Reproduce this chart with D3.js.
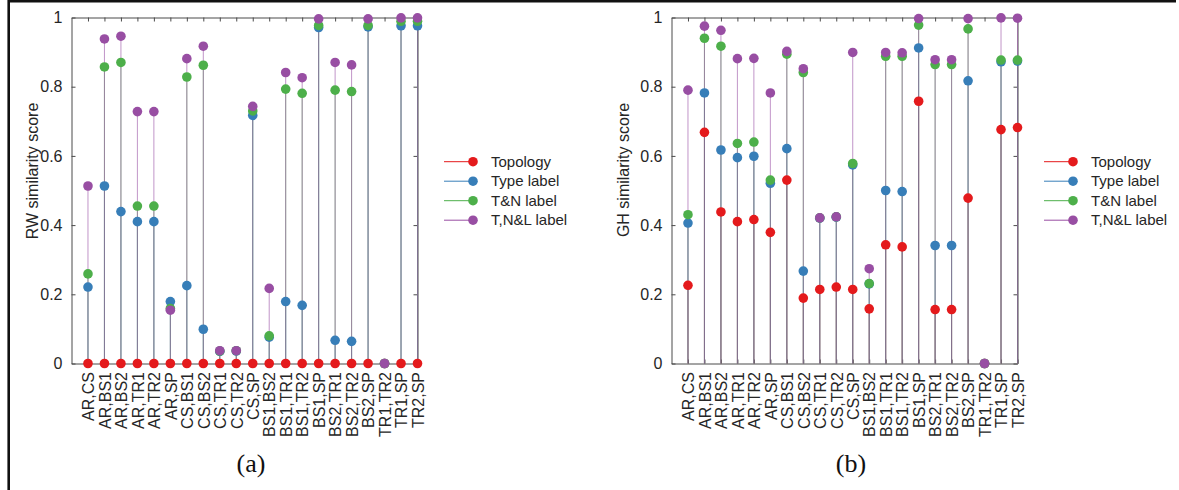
<!DOCTYPE html>
<html>
<head>
<meta charset="utf-8">
<script src="https://cdn.jsdelivr.net/npm/d3@7"></script>
<style>
  html, body { margin: 0; padding: 0; background: #fff; }
  svg { display: block; }
  text { font-family: "Liberation Sans", Arial, Helvetica, sans-serif; fill: #262626; }
  .caption { font-family: "Liberation Serif", "Times New Roman", serif; fill: #111; }
</style>
</head>
<body>
<svg id="chart" width="1179" height="490"></svg>
<script>
// Graph pairs compared in both panels
const categories = [
  "AR,CS", "AR,BS1", "AR,BS2", "AR,TR1", "AR,TR2", "AR,SP",
  "CS,BS1", "CS,BS2", "CS,TR1", "CS,TR2", "CS,SP",
  "BS1,BS2", "BS1,TR1", "BS1,TR2", "BS1,SP",
  "BS2,TR1", "BS2,TR2", "BS2,SP",
  "TR1,TR2", "TR1,SP", "TR2,SP"
];

const seriesNames = ["Topology", "Type label", "T&N label", "T,N&L label"];
const seriesColors = ["#e41a1c", "#377eb8", "#4daf4a", "#984ea3"];
const yTicks = [0, 0.2, 0.4, 0.6, 0.8, 1];
const yTickLabels = ["0", "0.2", "0.4", "0.6", "0.8", "1"];

// (a) random-walk kernel similarity
const rwTopology = [0, 0, 0, 0, 0, 0, 0, 0, 0, 0, 0, 0, 0, 0, 0, 0, 0, 0, 0, 0, 0];
const rwType = [0.221, 0.513, 0.439, 0.410, 0.410, 0.179, 0.225, 0.099, 0.035, 0.036, 0.717,
                0.076, 0.179, 0.168, 0.971, 0.067, 0.064, 0.973, 0, 0.976, 0.976];
const rwTN   = [0.259, 0.857, 0.870, 0.455, 0.455, 0.159, 0.828, 0.862, 0.036, 0.037, 0.730,
                0.080, 0.793, 0.781, 0.977, 0.790, 0.786, 0.977, 0, 0.989, 0.989];
const rwTNL  = [0.513, 0.938, 0.946, 0.728, 0.728, 0.154, 0.881, 0.917, 0.037, 0.037, 0.743,
                0.217, 0.841, 0.826, 0.996, 0.870, 0.863, 0.996, 0, 0.999, 0.999];

// (b) graph-hopper kernel similarity
const ghTopology = [0.226, 0.668, 0.438, 0.410, 0.416, 0.379, 0.530, 0.189, 0.214, 0.221, 0.214,
                    0.158, 0.343, 0.337, 0.758, 0.156, 0.156, 0.478, 0, 0.676, 0.682];
const ghType = [0.406, 0.782, 0.617, 0.595, 0.599, 0.521, 0.621, 0.267, 0.420, 0.423, 0.574,
                0.230, 0.500, 0.497, 0.912, 0.341, 0.341, 0.817, 0, 0.872, 0.874];
const ghTN   = [0.430, 0.940, 0.917, 0.636, 0.640, 0.530, 0.894, 0.841, 0.421, 0.424, 0.578,
                0.231, 0.888, 0.888, 0.978, 0.864, 0.864, 0.967, 0, 0.877, 0.877];
const ghTNL  = [0.790, 0.975, 0.963, 0.881, 0.882, 0.782, 0.902, 0.852, 0.421, 0.424, 0.899,
                0.274, 0.899, 0.898, 0.997, 0.878, 0.878, 0.997, 0, 0.999, 0.998];

const svg = d3.select("#chart");

// outer frame edges
svg.append("line").attr("x1", 8.7).attr("x2", 1176).attr("y1", 1.2).attr("y2", 1.2)
  .attr("stroke", "#111").attr("stroke-width", 2.6);
svg.append("line").attr("x1", 8.7).attr("x2", 8.7).attr("y1", 0).attr("y2", 490)
  .attr("stroke", "#111").attr("stroke-width", 2.6);

function drawPanel(cfg) {
  const g = svg.append("g");
  const x = d3.scaleLinear().domain([0, categories.length]).range([cfg.left, cfg.right]);
  const y = d3.scaleLinear().domain([0, 1]).range([cfg.bottom, cfg.top]);
  const idx = d3.range(1, categories.length + 1);

  const axisStyle = sel => {
    sel.selectAll(".domain").attr("stroke", "#4a4a4a").attr("stroke-width", 1);
    sel.selectAll(".tick line").attr("stroke", "#4a4a4a").attr("stroke-width", 1);
    sel.selectAll(".tick text").style("font-size", "16px").attr("fill", "#262626");
  };

  // left axis with labels
  g.append("g").attr("transform", `translate(${cfg.left},0)`)
    .call(d3.axisLeft(y).tickValues(yTicks).tickFormat((d, i) => yTickLabels[i])
      .tickSizeInner(-4).tickSizeOuter(0).tickPadding(9))
    .call(axisStyle);
  // right axis, ticks only
  g.append("g").attr("transform", `translate(${cfg.right},0)`)
    .call(d3.axisRight(y).tickValues(yTicks).tickFormat("")
      .tickSizeInner(-4).tickSizeOuter(0))
    .call(axisStyle);
  // top axis, ticks only
  g.append("g").attr("transform", `translate(0,${cfg.top})`)
    .call(d3.axisTop(x).tickValues(idx).tickFormat("")
      .tickSizeInner(-4).tickSizeOuter(0))
    .call(axisStyle);
  // bottom axis with rotated category labels
  const bottom = g.append("g").attr("transform", `translate(0,${cfg.bottom})`)
    .call(d3.axisBottom(x).tickValues(idx).tickFormat(d => categories[d - 1])
      .tickSizeInner(-4).tickSizeOuter(0))
    .call(axisStyle);
  bottom.selectAll(".tick text")
    .attr("transform", "rotate(-90)")
    .attr("text-anchor", "end")
    .attr("x", -8.5)
    .attr("y", 0)
    .attr("dy", "0.36em");

  // y-axis title
  g.append("text")
    .attr("transform", `translate(${cfg.titleX},${cfg.titleY}) rotate(-90)`)
    .attr("text-anchor", "middle")
    .attr("dominant-baseline", "central")
    .style("font-size", "16px")
    .text(cfg.title);

  // stems for each series, drawn beneath all markers
  cfg.series.forEach((vals, s) => {
    g.append("g").selectAll("line").data(vals).join("line")
      .attr("x1", (d, i) => x(i + 1)).attr("x2", (d, i) => x(i + 1))
      .attr("y1", y(0)).attr("y2", d => y(d))
      .attr("stroke", seriesColors[s]).attr("stroke-width", 1)
      .attr("stroke-opacity", 0.6);
  });
  // markers
  cfg.series.forEach((vals, s) => {
    g.append("g").selectAll("circle").data(vals).join("circle")
      .attr("cx", (d, i) => x(i + 1)).attr("cy", d => y(d))
      .attr("r", 4.8).attr("fill", seriesColors[s]);
  });

  // legend
  const lg = g.append("g").attr("transform", `translate(${cfg.legendX},${cfg.legendY})`);
  seriesNames.forEach((name, s) => {
    const row = lg.append("g").attr("transform", `translate(0,${s * 19.5})`);
    row.append("line").attr("x1", 0).attr("x2", 29).attr("y1", 0).attr("y2", 0)
      .attr("stroke", seriesColors[s]).attr("stroke-width", 1);
    row.append("circle").attr("cx", 29).attr("cy", 0).attr("r", 4.8).attr("fill", seriesColors[s]);
    row.append("text").attr("x", 47).attr("y", 0).attr("dy", "0.35em")
      .style("font-size", "15px").attr("fill", "#1a1a1a").text(name);
  });

  // panel caption
  g.append("text").attr("class", "caption")
    .attr("x", cfg.captionX).attr("y", 472)
    .attr("text-anchor", "middle")
    .style("font-size", "26px")
    .text(cfg.caption);
}

drawPanel({
  left: 71.5, right: 417.5, top: 17.5, bottom: 363.5,
  title: "RW similarity score", titleX: 32, titleY: 171,
  series: [rwTopology, rwType, rwTN, rwTNL],
  legendX: 444, legendY: 161.7,
  caption: "(a)", captionX: 251
});

drawPanel({
  left: 671.5, right: 1017.5, top: 17.5, bottom: 363.5,
  title: "GH similarity score", titleX: 623.5, titleY: 170,
  series: [ghTopology, ghType, ghTN, ghTNL],
  legendX: 1044, legendY: 161.7,
  caption: "(b)", captionX: 851
});
</script>
</body>
</html>
